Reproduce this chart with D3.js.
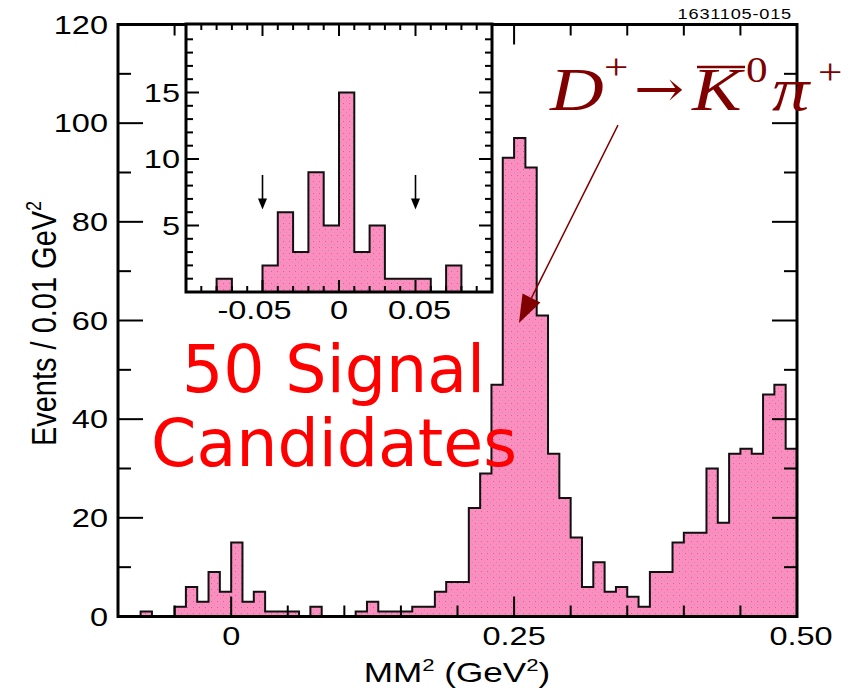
<!DOCTYPE html>
<html><head><meta charset="utf-8">
<script src="https://cdn.jsdelivr.net/npm/d3@7/dist/d3.min.js"></script>
<style>body{margin:0;background:#fff}svg{display:block}</style>
</head><body>
<svg id="c" width="861" height="691"></svg>
<script>
// ---------- data ----------
// lower edges of the 0.01 GeV^2 bins (main histogram)
const binStarts = [-0.10,-0.09,-0.08,-0.07,-0.06,-0.05,-0.04,-0.03,-0.02,-0.01,
  0.00,0.01,0.02,0.03,0.04,0.05,0.06,0.07,0.08,0.09,
  0.10,0.11,0.12,0.13,0.14,0.15,0.16,0.17,0.18,0.19,
  0.20,0.21,0.22,0.23,0.24,0.25,0.26,0.27,0.28,0.29,
  0.30,0.31,0.32,0.33,0.34,0.35,0.36,0.37,0.38,0.39,
  0.40,0.41,0.42,0.43,0.44,0.45,0.46,0.47,0.48,0.49];
const mainCounts = [0,0,1,0,0,2,6,3,9,5,
  15,3,5,1,1,1,0,2,0,0,
  0,1,3,1,1,1,2,2,5,7,
  7,22,29,47,93,97,91,61,33,24,
  16,6,11,5,6,4,2,9,9,15,
  17,17,30,19,33,34,33,45,47,34];
const binWidth = 0.01;

// inset (zoom of -0.1 .. 0.1)
const insetStarts = [-0.10,-0.09,-0.08,-0.07,-0.06,-0.05,-0.04,-0.03,-0.02,-0.01,
  0.00,0.01,0.02,0.03,0.04,0.05,0.06,0.07,0.08,0.09];
const insetCounts = [0,0,1,0,0,2,6,3,9,5,15,3,5,1,1,1,0,2,0,0];
const cutEdges = [-0.05, 0.05];

// ticks / labels
const mainYLabels = [0,20,40,60,80,100,120];
const mainYMinor = [10,30,50,70,90,110];
const mainXLabels = [{v:0,t:"0"},{v:0.25,t:"0.25"},{v:0.5,t:"0.50"}];
const mainXTicks = [-0.05,0,0.05,0.10,0.15,0.20,0.25,0.30,0.35,0.40,0.45];
const insetYLabels = [5,10,15];
const insetYTicks = [1,2,3,4,5,6,7,8,9,10,11,12,13,14,15,16,17,18,19];
const insetXLabels = [{v:-0.05,t:"-0.05"},{v:0,t:"0"},{v:0.05,t:"0.05"}];
const insetXTicks = [-0.09,-0.08,-0.07,-0.06,-0.05,-0.04,-0.03,-0.02,-0.01,0,0.01,0.02,0.03,0.04,0.05,0.06,0.07,0.08,0.09];

// ---------- drawing ----------
const svg = d3.select('#c');
const defs = svg.append('defs');
const pat = defs.append('pattern').attr('id','dots').attr('patternUnits','userSpaceOnUse')
  .attr('width',6).attr('height',6);
pat.append('rect').attr('width',6).attr('height',6).attr('fill','#fb8dbf');
pat.append('rect').attr('x',1).attr('y',1).attr('width',1).attr('height',1).attr('fill','#c766a0');
pat.append('rect').attr('x',4).attr('y',4).attr('width',1).attr('height',1).attr('fill','#a9a3ad');

const LBL = "'Liberation Sans', Arial, Helvetica, sans-serif";
const STRETCH = 1.3;

function stepPts(starts, counts){
  const p = [];
  starts.forEach((s,i)=>{ p.push([s,counts[i]]); p.push([s+binWidth,counts[i]]); });
  return p;
}
function drawHist(g, xs, ys, starts, counts){
  const pts = stepPts(starts, counts);
  g.append('path').datum(pts)
    .attr('d', d3.area().x(d=>xs(d[0])).y0(ys(0)).y1(d=>ys(d[1])))
    .attr('fill','url(#dots)');
  g.append('path').datum(pts)
    .attr('d', d3.line().x(d=>xs(d[0])).y(d=>ys(d[1])))
    .attr('fill','none').attr('stroke','#111').attr('stroke-width',2);
}
function stretchedText(g, x, y, txt, anchor, size, fam){
  return g.append('text')
    .attr('transform',`translate(${x},${y}) scale(${STRETCH},1)`)
    .attr('text-anchor',anchor).attr('font-family',fam||LBL)
    .attr('font-size',size).attr('fill','#000').text(txt);
}

// main scales
const x = d3.scaleLinear().domain([-0.1,0.5]).range([118,797]);
const y = d3.scaleLinear().domain([0,120]).range([616.5,24.5]);

const gMain = svg.append('g');
drawHist(gMain, x, y, binStarts, mainCounts);

// main ticks
const tk = svg.append('g').attr('stroke','#000').attr('stroke-width',2);
const majX = v => mainXLabels.some(l=>Math.abs(l.v-v)<1e-9);
mainXTicks.forEach(v=>{
  const L = majX(v)?20:11;
  tk.append('line').attr('x1',x(v)).attr('x2',x(v)).attr('y1',y(0)).attr('y2',y(0)-L);
  tk.append('line').attr('x1',x(v)).attr('x2',x(v)).attr('y1',y(120)).attr('y2',y(120)+L);
});
mainYLabels.concat(mainYMinor).forEach(v=>{
  if (v===0||v===120) return;
  const L = (v%20===0)?25:13;
  tk.append('line').attr('x1',x(-0.1)).attr('x2',x(-0.1)+L).attr('y1',y(v)).attr('y2',y(v));
  tk.append('line').attr('x1',x(0.5)).attr('x2',x(0.5)-L).attr('y1',y(v)).attr('y2',y(v));
});
svg.append('rect').attr('x',x(-0.1)).attr('y',y(120)).attr('width',x(0.5)-x(-0.1)).attr('height',y(0)-y(120))
  .attr('fill','none').attr('stroke','#000').attr('stroke-width',3);

// main tick labels
const gl = svg.append('g');
mainYLabels.forEach(v=>{
  stretchedText(gl, 108, y(v)+9, String(v), 'end', 25);
});
mainXLabels.forEach(l=>{
  stretchedText(gl, x(l.v)+(l.v===0.5?4:0), 645, l.t, 'middle', 25);
});
// x title
const xt = gl.append('text').attr('transform',`translate(457,682) scale(${STRETCH},1)`)
  .attr('text-anchor','middle').attr('font-family',LBL).attr('font-size',27);
xt.append('tspan').text('MM');
xt.append('tspan').attr('font-size',17).attr('dy',-11).text('2');
xt.append('tspan').attr('dy',11).text(' (GeV');
xt.append('tspan').attr('font-size',17).attr('dy',-11).text('2');
xt.append('tspan').attr('dy',11).text(')');
// y title
const yt = gl.append('text').attr('transform','translate(56,323.5) scale(1.22,1) rotate(-90)')
  .attr('text-anchor','middle').attr('font-family',LBL).attr('font-size',29);
yt.append('tspan').text('Events / 0.01 GeV');
yt.append('tspan').attr('font-size',18).attr('dy',-12).text('2');

// id label
svg.append('text').attr('transform',`translate(792,19) scale(${STRETCH},1)`)
  .attr('text-anchor','end').attr('font-family',LBL).attr('font-size',14)
  .attr('letter-spacing',0.6).text('1631105-015');

// ---------- inset ----------
const xi = d3.scaleLinear().domain([-0.1,0.1]).range([186,492]);
const yi = d3.scaleLinear().domain([0,20]).range([292,26]);
const gIn = svg.append('g');
gIn.append('rect').attr('x',xi(-0.1)).attr('y',24).attr('width',xi(0.1)-xi(-0.1)).attr('height',yi(0)-24)
  .attr('fill','#fff');
drawHist(gIn, xi, yi, insetStarts, insetCounts);
const tki = gIn.append('g').attr('stroke','#000').attr('stroke-width',2);
insetXTicks.forEach(v=>{
  const L = insetXLabels.some(l=>Math.abs(l.v-v)<1e-9)?12:6;
  tki.append('line').attr('x1',xi(v)).attr('x2',xi(v)).attr('y1',yi(0)).attr('y2',yi(0)-L);
  tki.append('line').attr('x1',xi(v)).attr('x2',xi(v)).attr('y1',24).attr('y2',24+L);
});
insetYTicks.forEach(v=>{
  const L = insetYLabels.includes(v)?13:7;
  tki.append('line').attr('x1',xi(-0.1)).attr('x2',xi(-0.1)+L).attr('y1',yi(v)).attr('y2',yi(v));
  tki.append('line').attr('x1',xi(0.1)).attr('x2',xi(0.1)-L).attr('y1',yi(v)).attr('y2',yi(v));
});
gIn.append('rect').attr('x',xi(-0.1)).attr('y',24).attr('width',xi(0.1)-xi(-0.1)).attr('height',yi(0)-24)
  .attr('fill','none').attr('stroke','#000').attr('stroke-width',3);
insetYLabels.forEach(v=>{ stretchedText(gIn, 180, yi(v)+9, String(v), 'end', 25); });
insetXLabels.forEach(l=>{ stretchedText(gIn, xi(l.v)+(l.v<0?-8:(l.v>0?4:0)), 319, l.t, 'middle', 25); });
// cut arrows
cutEdges.forEach(v=>{
  const top = yi(8.8), tip = yi(6.2);
  gIn.append('line').attr('x1',xi(v)).attr('x2',xi(v)).attr('y1',top).attr('y2',tip-8)
    .attr('stroke','#000').attr('stroke-width',1.6);
  gIn.append('path').attr('d',`M${xi(v)-4.5},${tip-11}L${xi(v)+4.5},${tip-11}L${xi(v)},${tip}Z`).attr('fill','#000');
});

// ---------- annotations ----------
const red = '#ff0000';
svg.append('text').attr('x',182).attr('y',392).attr('font-family',"'DejaVu Sans', sans-serif")
  .attr('font-size',65).attr('fill',red).text('50 Signal');
svg.append('text').attr('x',151).attr('y',466).attr('font-family',"'DejaVu Sans', sans-serif")
  .attr('font-size',65).attr('fill',red).text('Candidates');

// decay formula
const maroon = '#800000';
const FS = 1.2;
const f = svg.append('text').attr('transform',`scale(${FS},1)`)
  .attr('font-family',"'Liberation Serif', 'Times New Roman', serif").attr('fill',maroon);
f.append('tspan').attr('x',550/FS).attr('y',110).attr('font-size',62).attr('font-style','italic').text('D');
f.append('tspan').attr('x',604/FS).attr('y',79).attr('font-size',36).text('+');
f.append('tspan').attr('x',634/FS).attr('y',106).attr('font-size',50).attr('font-family',"'DejaVu Serif', serif").text('→');
f.append('tspan').attr('x',692/FS).attr('y',110).attr('font-size',62).attr('font-style','italic').text('K');
f.append('tspan').attr('x',746/FS).attr('y',82).attr('font-size',36).text('0');
f.append('tspan').attr('x',772/FS).attr('y',110).attr('font-size',62).attr('font-style','italic').text('π');
f.append('tspan').attr('x',818/FS).attr('y',84).attr('font-size',36).text('+');
svg.append('line').attr('x1',697).attr('x2',745).attr('y1',67).attr('y2',67)
  .attr('stroke',maroon).attr('stroke-width',2.5);

// pointer arrow (data coordinates of the main plot)
const aStart = {v:0.3418, c:99.6}, aTip = {v:0.2543, c:59.5};
const S = [x(aStart.v), y(aStart.c)], T = [x(aTip.v), y(aTip.c)];
const dx = T[0]-S[0], dy = T[1]-S[1], len = Math.hypot(dx,dy);
const u = [dx/len, dy/len], n = [-u[1], u[0]];
const B = [T[0]-28*u[0], T[1]-28*u[1]];
svg.append('line').attr('x1',S[0]).attr('y1',S[1]).attr('x2',B[0]).attr('y2',B[1])
  .attr('stroke',maroon).attr('stroke-width',1.5);
svg.append('path').attr('d',`M${T[0]},${T[1]}L${B[0]+10*n[0]},${B[1]+10*n[1]}L${B[0]-10*n[0]},${B[1]-10*n[1]}Z`)
  .attr('fill',maroon);
</script>
</body></html>
